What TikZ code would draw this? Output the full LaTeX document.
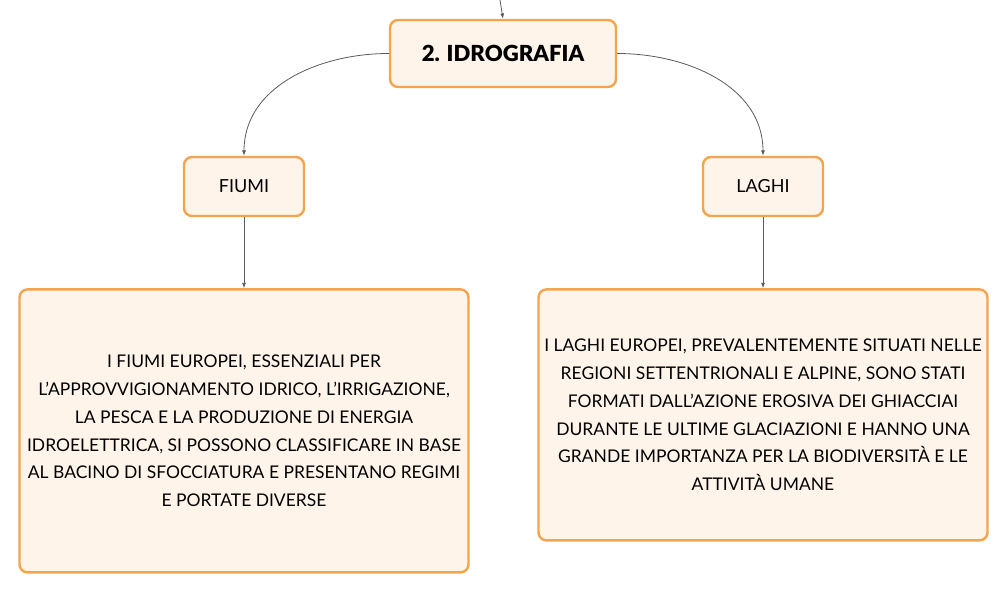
\documentclass[tikz,border=0pt]{standalone}
\usepackage{fontspec}
\setmainfont{Lato}
\newfontfamily\heavyfont{Lato Black}
\usepackage{tikz}
\usetikzlibrary{positioning, arrows.meta}

\definecolor{boxline}{HTML}{F4A44A}
\definecolor{boxfill}{HTML}{FEF4EA}
\definecolor{linkgray}{HTML}{5A5A5A}

\begin{document}
\begin{tikzpicture}[x=0.75pt, y=-0.75pt,
    mapbox/.style={draw=boxline, fill=boxfill, line width=1.8pt, rounded corners=6pt, align=center, inner sep=0pt},
    link/.style={draw=linkgray, line width=0.6pt, -{Latex[length=4pt, width=3pt]}}]
  \useasboundingbox (0,0) rectangle (1008,591);

  \node[mapbox, minimum width=169.5pt, minimum height=50.25pt, font=\fontsize{16.6}{19}\heavyfont] (idro) at (503,53.5) {2. IDROGRAFIA};
  \coordinate (top) at (500,0);

  \node[mapbox, minimum width=90pt, minimum height=44.25pt, font=\fontsize{13.5}{15}\selectfont] (fiumi) at (244,186.5) {FIUMI};
  \node[mapbox, minimum width=90pt, minimum height=44.25pt, font=\fontsize{13.5}{15}\selectfont] (laghi) at (763,186.5) {LAGHI};

  \node[mapbox, below=53.25pt of fiumi, minimum width=336.75pt, minimum height=212.25pt, font=\fontsize{13.1}{20.8}\selectfont] (fiumitxt)
       {I FIUMI EUROPEI, ESSENZIALI PER\\ L'APPROVVIGIONAMENTO IDRICO, L'IRRIGAZIONE,\\ LA PESCA E LA PRODUZIONE DI ENERGIA\\ IDROELETTRICA, SI POSSONO CLASSIFICARE IN BASE\\ AL BACINO DI SFOCCIATURA E PRESENTANO REGIMI\\ E PORTATE DIVERSE};

  \node[mapbox, below=53.25pt of laghi, minimum width=336.75pt, minimum height=188.25pt, font=\fontsize{13.1}{20.8}\selectfont] (laghitxt)
       {I LAGHI EUROPEI, PREVALENTEMENTE SITUATI NELLE\\ REGIONI SETTENTRIONALI E ALPINE, SONO STATI\\ FORMATI DALL'AZIONE EROSIVA DEI GHIACCIAI\\ DURANTE LE ULTIME GLACIAZIONI E HANNO UNA\\ GRANDE IMPORTANZA PER LA BIODIVERSITÀ E LE\\ ATTIVITÀ UMANE};

  \draw[link] (top) -- (idro.north);
  \draw[link] (idro.west) to[out=180, in=90] (fiumi.north);
  \draw[link] (idro.east) to[out=0, in=90] (laghi.north);
  \draw[link] (fiumi.south) -- (fiumitxt.north);
  \draw[link] (laghi.south) -- (laghitxt.north);

\end{tikzpicture}
\end{document}
